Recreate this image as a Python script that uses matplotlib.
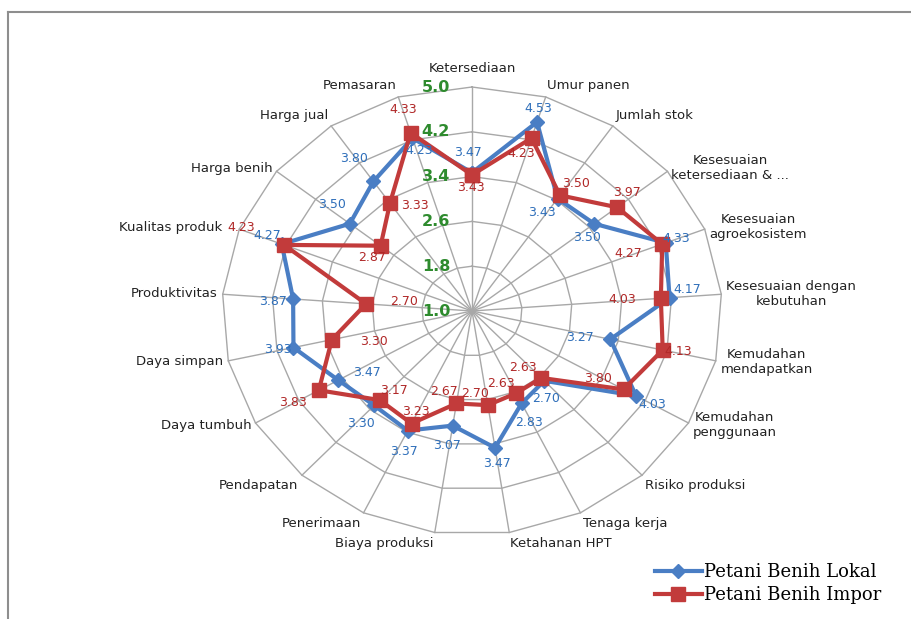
import numpy as np
import matplotlib
matplotlib.use('Agg')
import matplotlib.pyplot as plt
from matplotlib.lines import Line2D

# data
categories = ['Ketersediaan', 'Umur panen', 'Jumlah stok',
              'Kesesuaian\nketersediaan & ...', 'Kesesuaian\nagroekosistem',
              'Kesesuaian dengan\nkebutuhan', 'Kemudahan\nmendapatkan',
              'Kemudahan\npenggunaan', 'Risiko produksi', 'Tenaga kerja',
              'Ketahanan HPT', 'Biaya produksi', 'Penerimaan', 'Pendapatan',
              'Daya tumbuh', 'Daya simpan', 'Produktivitas', 'Kualitas produk',
              'Harga benih', 'Harga jual', 'Pemasaran']
lokal = [3.47, 4.53, 3.43, 3.50, 4.33, 4.17, 3.27, 4.03, 2.70, 2.83, 3.47,
         3.07, 3.37, 3.30, 3.47, 3.93, 3.87, 4.27, 3.50, 3.80, 4.23]
impor = [3.43, 4.23, 3.50, 3.97, 4.27, 4.03, 4.13, 3.80, 2.63, 2.63, 2.70,
         2.67, 3.23, 3.17, 3.83, 3.30, 2.70, 4.23, 2.87, 3.33, 4.33]
r_ticks = [1.0, 1.8, 2.6, 3.4, 4.2, 5.0]
series_names = ['Petani Benih Lokal', 'Petani Benih Impor']

# label offsets in pixels (dx, dy downward), just for placement
lokal_off = [(-4, -20), (1, -14), (-16, 14), (-7, 14), (10, -4), (18, -8), (-30, -2),
             (16, 9), (2, 18), (7, 19), (2, 16), (-6, 20), (-4, 21), (-13, 18),
             (29, -8), (-16, 2), (-20, 3), (-15, -9), (-18, -19), (-19, -23), (7, 12)]
impor_off = [(-1, 13), (-10, 15), (16, -12), (10, -15), (-34, 9), (-39, 1), (15, 1),
             (-26, -11), (-18, -10), (-15, -10), (-13, -12), (-12, -12), (4, -12),
             (14, -10), (-26, 12), (42, 2), (38, -2), (-43, -17), (-9, 12), (25, 2),
             (-7, -23)]

blue = '#4a7ec4'
red = '#c23b3b'
blue_txt = '#2f6fba'
red_txt = '#b02828'
grid_c = '#a8a8a8'

n = len(categories)
theta = np.arange(n) * 2 * np.pi / n

fig = plt.figure(figsize=(9.12, 6.19), dpi=100)
fig.patch.set_facecolor('white')

# chart border (only top and left visible)
fig.add_artist(Line2D([8 / 912, 8 / 912], [0, 1 - 12 / 619], transform=fig.transFigure,
                      color='#8e8e8e', lw=1.5))
fig.add_artist(Line2D([8 / 912, 1], [1 - 12 / 619, 1 - 12 / 619], transform=fig.transFigure,
                      color='#8e8e8e', lw=1.5))

ax = fig.add_axes([222 / 912, 84 / 619, 500 / 912, 448 / 619], projection='polar')
ax.set_theta_zero_location('N')
ax.set_theta_direction(-1)
ax.set_ylim(1.0, 5.0)
ax.set_aspect('auto')
ax.grid(False)
ax.set_xticks([])
ax.set_yticks([])
ax.spines['polar'].set_visible(False)
ax.patch.set_visible(False)

# polygon rings and spokes
closed = np.append(theta, theta[0])
for v in r_ticks[1:]:
    ax.plot(closed, [v] * (n + 1), color=grid_c, lw=1.0, zorder=1, clip_on=False)
for t in theta:
    ax.plot([t, t], [1.0, 5.0], color=grid_c, lw=1.0, zorder=1, clip_on=False)

# radial tick labels
for v in r_ticks:
    ax.annotate(f'{v:.1f}', xy=(0, v), xytext=(-36, 0), textcoords='offset pixels',
                ha='center', va='center', fontsize=11.5, fontweight='bold',
                color='#2e8b2e', zorder=6, annotation_clip=False)

# series
ax.plot(closed, lokal + lokal[:1], color=blue, lw=3, marker='D', ms=7,
        zorder=3, clip_on=False)
ax.plot(closed, impor + impor[:1], color=red, lw=3, marker='s', ms=10,
        zorder=4, clip_on=False)

for t, v, (dx, dy) in zip(theta, lokal, lokal_off):
    ax.annotate(f'{v:.2f}', xy=(t, v), xytext=(dx, -dy), textcoords='offset pixels',
                ha='center', va='center', fontsize=9, color=blue_txt, zorder=7,
                annotation_clip=False)
for t, v, (dx, dy) in zip(theta, impor, impor_off):
    ax.annotate(f'{v:.2f}', xy=(t, v), xytext=(dx, -dy), textcoords='offset pixels',
                ha='center', va='center', fontsize=9, color=red_txt, zorder=7,
                annotation_clip=False)

# category labels outside the outer ring
for i, (t, name) in enumerate(zip(theta, categories)):
    s, c = np.sin(t), np.cos(t)
    if s > 0.1:
        ha = 'left'
    elif s < -0.1:
        ha = 'right'
    else:
        ha = 'center'
    if c > 0.7:
        va = 'bottom'
    elif c < -0.6:
        va = 'top'
    else:
        va = 'center'
    d = 12 if abs(s) < 0.1 else 5
    dx = d * s
    if name == 'Kualitas produk':
        dx -= 12  # keep clear of the 4.23 label
    ax.annotate(name, xy=(t, 5.0), xytext=(dx, d * c), textcoords='offset pixels',
                ha=ha, va=va, fontsize=9.5, color='#222222', multialignment='center',
                annotation_clip=False)

handles = [Line2D([], [], color=blue, lw=3, marker='D', ms=7),
           Line2D([], [], color=red, lw=3, marker='s', ms=10)]
fig.legend(handles, series_names, loc='upper left', bbox_to_anchor=(655 / 912, 1 - 563 / 619),
           frameon=False, borderaxespad=0, borderpad=0, handlelength=2.6,
           handletextpad=0.1, labelspacing=0.3,
           prop={'family': 'DejaVu Serif', 'size': 13})

fig.savefig('out.png', dpi=100, facecolor='white')
